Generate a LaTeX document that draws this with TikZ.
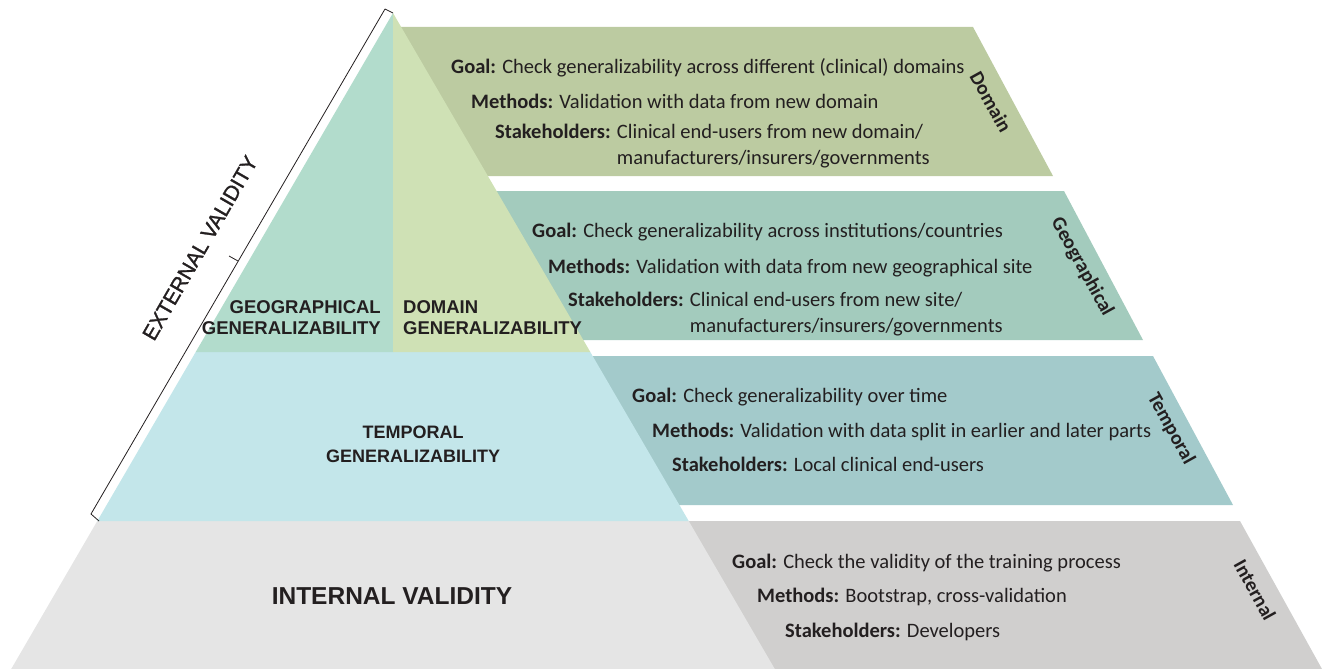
\documentclass[tikz,border=0pt]{standalone}
\usepackage{fontspec}
\setmainfont{Carlito}
\newfontfamily\hv{Liberation Sans}
\newfontfamily\hvm[FakeBold=1.3]{Liberation Sans}
\definecolor{geo}{HTML}{B2DCCC}
\definecolor{dom}{HTML}{CFE1B5}
\definecolor{domp}{HTML}{BCCBA1}
\definecolor{geop}{HTML}{A3CBBD}
\definecolor{tem}{HTML}{C3E6EA}
\definecolor{temp}{HTML}{A3CACB}
\definecolor{intl}{HTML}{E5E5E5}
\definecolor{intp}{HTML}{D0CFCE}
\definecolor{tc}{HTML}{231F20}
\begin{document}
\begin{tikzpicture}[x=1pt,y=-1pt,
  txt/.style={anchor=base west,inner sep=0pt,text=tc,font=\fontsize{20.5}{26}\selectfont},
  side/.style={inner sep=0pt,text=tc,rotate=-61,font=\fontsize{20}{22}\selectfont\bfseries},
  lvl/.style={inner sep=0pt,text=tc,font=\hv\bfseries\fontsize{18.5}{21}\selectfont},
  brk/.style={draw=tc,line width=0.8pt,line join=round}]
\useasboundingbox (0,0) rectangle (1322,669);
% right panels
\fill[domp] (398,27) -- (973,27) -- (1053,176) -- (398,176) -- cycle;
\fill[geop] (398,191) -- (1064,191) -- (1143,340) -- (398,340) -- cycle;
\fill[temp] (398,356) -- (1153,356) -- (1233,505) -- (398,505) -- cycle;
\fill[intp] (398,521) -- (1240,521) -- (1322,669) -- (398,669) -- cycle;
% pyramid
\fill[intl] (11.2,669) -- (97.3,521) -- (688.7,521) -- (774.8,669) -- cycle;
\fill[tem] (97.3,521) -- (195.7,352) -- (590.3,352) -- (688.7,521) -- cycle;
\fill[geo] (393,13) -- (195.7,352) -- (393,352) -- cycle;
\fill[dom] (393,13) -- (393,352) -- (590.3,352) -- cycle;
% bracket
\coordinate (b0) at (393,13);
\coordinate (b1) at (385,9);
\coordinate (b2) at (91,514);
\coordinate (b3) at (99,521);
\coordinate (bm) at (238,261);
\coordinate (bt) at (229,256);
\draw[brk] (b0) -- (b1) -- (b2) -- (b3);
\draw[brk] (bm) -- (bt);
\node[inner sep=0pt,text=tc,rotate=60,font=\hvm\fontsize{21}{24}\selectfont] (ext) at (200,248) {EXTERNAL VALIDITY};
% pyramid labels
\node[lvl,anchor=east,align=right] (lgeo) at (381,317.5) {GEOGRAPHICAL\\GENERALIZABILITY};
\node[lvl,anchor=west,align=left] (ldom) at (403,317.5) {DOMAIN\\GENERALIZABILITY};
\node[lvl,align=center,font=\hv\bfseries\fontsize{18}{24}\selectfont] (ltem) at (413,444) {TEMPORAL\\GENERALIZABILITY};
\node[lvl,font=\hv\bfseries\fontsize{24.5}{28}\selectfont] (lint) at (392,596) {INTERNAL VALIDITY};
% domain panel
\node[txt] (dg) at (451,74) {\textbf{Goal:} Check generalizability across different (clinical) domains};
\node[txt] (dm) at (471,108) {\textbf{Methods:} Validation with data from new domain};
\node[txt] (ds) at (495,138) {\textbf{Stakeholders:} \begin{tabular}[t]{@{}l@{}}Clinical end-users from new domain/\\manufacturers/insurers/governments\end{tabular}};
\node[side] (sd) at (991,102) {Domain};
% geographical panel
\node[txt] (gg) at (532,237) {\textbf{Goal:} Check generalizability across institutions/countries};
\node[txt] (gm) at (548,273) {\textbf{Methods:} Validation with data from new geographical site};
\node[txt] (gs) at (568,306) {\textbf{Stakeholders:} \begin{tabular}[t]{@{}l@{}}Clinical end-users from new site/\\manufacturers/insurers/governments\end{tabular}};
\node[side] (sg) at (1082,267) {Geographical};
% temporal panel
\node[txt] (tg) at (632,402) {\textbf{Goal:} Check generalizability over time};
\node[txt] (tm) at (652,437) {\textbf{Methods:} Validation with data split in earlier and later parts};
\node[txt] (ts) at (672,471) {\textbf{Stakeholders:} Local clinical end-users};
\node[side] (st) at (1171,429) {Temporal};
% internal panel
\node[txt] (ig) at (732,568) {\textbf{Goal:} Check the validity of the training process};
\node[txt] (im) at (757,602) {\textbf{Methods:} Bootstrap, cross-validation};
\node[txt] (is) at (785,637) {\textbf{Stakeholders:} Developers};
\node[side] (si) at (1255,590) {Internal};
\end{tikzpicture}
\end{document}
